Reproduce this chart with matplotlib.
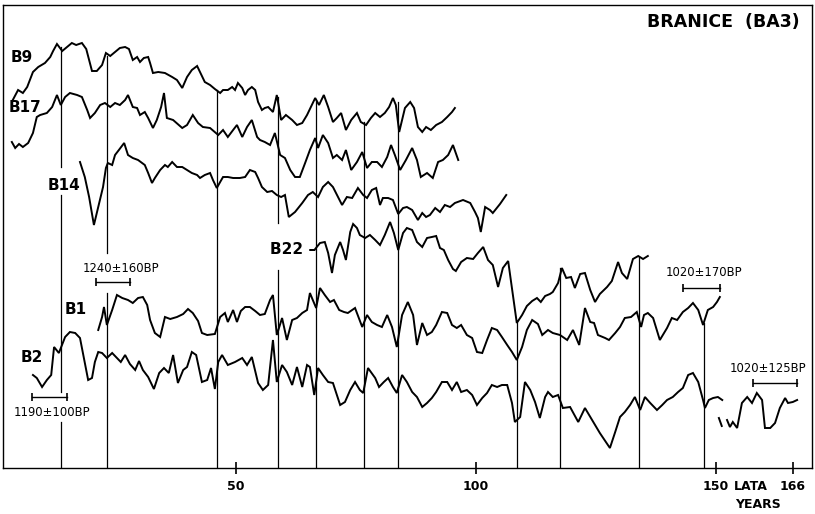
import matplotlib.pyplot as plt

# Branice (BA3) tree-ring curves. x = years, y = relative ring width (stacked, above the axis)
b9_years = [3.5, 4.6, 5.6, 6.5, 7.7, 8.8, 10.2, 11.3, 11.9, 12.7, 13.8, 14.8, 15.8, 16.7, 17.9, 18.8, 20.0, 21.0, 22.1, 22.9,
            23.8, 24.8, 25.8, 26.9, 27.7, 28.5, 29.4, 30.0, 30.8, 31.7, 32.1, 32.7, 33.8, 35.2, 36.7, 37.7, 38.8, 39.8, 40.8, 41.9,
            42.5, 43.5, 44.6, 45.6, 46.7, 47.3, 48.3, 49.2, 49.8, 50.4, 51.3, 51.9, 52.5, 53.3, 54.0, 54.6, 55.4, 56.0, 56.7, 57.7,
            58.5, 59.4, 60.4, 61.7, 62.7, 63.8, 64.8, 65.8, 66.5, 67.3, 68.3, 69.2, 70.2, 71.0, 71.9, 72.9, 74.0, 75.2, 76.0, 77.1,
            78.1, 79.0, 80.0, 81.0, 81.9, 82.7, 83.3, 84.0, 85.2, 86.3, 87.1, 87.9, 88.8, 89.6, 90.6, 91.7, 92.9, 94.0, 95.0, 95.6]
b9_vals = [368, 378, 375, 381, 396, 401, 405, 411, 417, 424, 417, 421, 425, 423, 425, 419, 397, 397, 403, 415,
           412, 416, 420, 421, 419, 408, 411, 406, 410, 411, 405, 395, 396, 395, 391, 388, 380, 391, 398, 402,
           396, 386, 383, 379, 375, 378, 378, 381, 378, 385, 380, 373, 378, 381, 378, 366, 358, 360, 361, 356,
           373, 348, 353, 348, 343, 345, 353, 363, 370, 363, 373, 361, 346, 350, 355, 338, 348, 355, 346, 343,
           350, 355, 351, 355, 361, 370, 363, 336, 360, 366, 360, 341, 336, 341, 338, 343, 346, 351, 356, 360]

b17_years = [3.3, 4.0, 4.8, 5.6, 6.7, 7.7, 8.5, 9.2, 10.6, 11.7, 12.7, 13.5, 14.4, 15.4, 16.9, 17.9, 19.0, 19.6, 20.6, 21.7,
             22.7, 23.8, 24.8, 25.8, 26.9, 27.5, 28.5, 29.4, 30.0, 31.0, 31.7, 32.7, 33.5, 34.4, 35.0, 35.6, 36.9, 38.8, 39.8, 41.0,
             42.1, 43.1, 44.6, 46.3, 47.3, 48.3, 49.4, 50.2, 51.3, 52.3, 53.3, 54.4, 55.0, 56.0, 57.1, 58.1, 59.2, 60.2, 61.3, 62.3,
             63.3, 64.4, 65.4, 66.5, 67.1, 68.1, 69.2, 70.2, 71.0, 72.1, 72.9, 74.0, 75.2, 76.3, 77.3, 78.3, 79.4, 80.4, 81.5, 82.3,
             83.1, 84.2, 85.4, 86.7, 87.7, 88.5, 89.8, 91.0, 92.1, 93.1, 94.2, 95.2, 96.3]
b17_vals = [326, 320, 324, 321, 325, 335, 351, 353, 355, 361, 373, 363, 371, 375, 373, 371, 358, 350, 355, 363,
            365, 361, 365, 363, 368, 373, 361, 360, 353, 356, 350, 340, 348, 361, 375, 350, 348, 340, 343, 353,
            345, 341, 340, 333, 338, 331, 338, 343, 331, 341, 348, 331, 328, 326, 323, 335, 313, 310, 298, 291,
            291, 305, 318, 330, 320, 333, 325, 310, 313, 308, 318, 298, 306, 316, 300, 306, 306, 301, 311, 323,
            313, 298, 308, 320, 308, 291, 295, 290, 306, 308, 313, 323, 308]

b14_years = [17.5, 18.5, 19.4, 20.4, 21.3, 22.3, 22.9, 23.3, 24.2, 24.8, 25.6, 26.7, 27.5, 28.5, 29.6, 31.0, 31.7, 32.5, 33.1, 34.2,
             35.2, 35.8, 36.7, 37.7, 38.8, 39.8, 40.8, 41.9, 42.5, 43.5, 44.6, 45.2, 46.0, 46.7, 47.3, 48.3, 49.4, 50.8, 51.9, 52.9,
             54.0, 54.6, 55.4, 56.5, 57.5, 58.5, 59.4, 60.2, 61.0, 62.3, 63.8, 65.0, 66.0, 67.1, 68.1, 69.2, 70.2, 72.1, 73.1, 74.2,
             75.4, 76.5, 77.3, 78.3, 79.2, 80.0, 80.6, 81.7, 82.7, 83.8, 84.8, 85.6, 86.7, 87.9, 88.8, 89.6, 90.4, 91.5, 92.5, 93.5,
             94.6, 95.6, 97.3, 98.8, 99.8, 100.4, 101.0, 101.9, 102.9, 103.5, 105.0, 106.3]
b14_vals = [306, 291, 271, 243, 261, 281, 300, 305, 303, 313, 318, 325, 313, 310, 308, 303, 295, 285, 290, 298,
            303, 301, 306, 301, 301, 298, 295, 293, 290, 293, 295, 288, 280, 286, 291, 291, 290, 290, 291, 298,
            296, 290, 281, 276, 277, 273, 271, 273, 251, 256, 265, 273, 276, 271, 281, 286, 281, 263, 271, 270,
            280, 273, 270, 278, 280, 263, 270, 270, 268, 254, 260, 261, 258, 248, 255, 251, 253, 260, 256, 263,
            261, 265, 268, 265, 256, 250, 236, 261, 258, 255, 264, 273]

b22_years = [66.5, 67.5, 68.5, 69.2, 70.0, 70.6, 71.7, 72.3, 72.9, 73.8, 74.4, 75.2, 75.8, 76.9, 77.9, 79.0, 80.0, 81.0, 82.1, 82.9,
             83.8, 84.8, 85.6, 86.7, 87.7, 88.8, 89.8, 90.8, 91.7, 92.5, 93.3, 94.2, 95.2, 95.8, 96.9, 98.1, 99.4, 100.4, 101.5, 102.5,
             103.5, 104.6, 105.6, 106.7, 108.5, 109.6, 110.6, 111.7, 112.7, 113.5, 114.4, 115.4, 116.0, 117.1, 117.9, 118.8, 119.8, 120.6, 121.7, 122.7,
             123.8, 124.8, 125.8, 127.3, 128.3, 129.6, 130.4, 131.5, 132.7, 133.8, 134.8, 135.8]
b22_vals = [219, 225, 226, 215, 195, 213, 226, 218, 208, 236, 244, 240, 233, 230, 233, 228, 223, 233, 246, 235,
            218, 235, 240, 238, 226, 221, 230, 231, 232, 220, 218, 208, 199, 197, 206, 210, 209, 215, 221, 208,
            203, 181, 200, 207, 145, 153, 162, 167, 170, 166, 172, 174, 176, 185, 200, 190, 191, 180, 194, 195,
            178, 166, 174, 181, 187, 206, 195, 189, 209, 212, 209, 212]

b1_years = [21.3, 22.1, 22.5, 23.1, 24.2, 25.2, 26.3, 27.5, 28.5, 29.6, 30.6, 31.5, 32.1, 33.1, 34.2, 35.2, 36.3, 37.7, 39.0, 40.0,
            41.0, 42.1, 42.9, 44.0, 45.6, 46.7, 47.7, 48.3, 49.4, 50.2, 51.0, 51.9, 52.9, 54.0, 55.0, 56.0, 57.1, 57.7, 58.5, 59.6,
            60.6, 61.7, 62.7, 63.8, 64.8, 65.4, 66.0, 66.7, 67.5, 68.5, 69.6, 70.4, 71.5, 72.5, 73.3, 74.8, 76.3, 77.3, 78.3, 79.4,
            80.4, 81.5, 82.5, 83.5, 84.6, 85.8, 86.9, 87.7, 88.8, 89.8, 90.8, 91.7, 92.9, 94.0, 95.0, 96.0, 96.9, 98.1, 99.2, 100.2,
            101.3, 102.3, 103.3, 104.4, 105.4, 106.5, 107.5, 108.5, 109.6, 110.6, 111.7, 112.9, 113.8, 115.0, 116.0, 117.5, 119.0, 120.2, 121.5, 122.7,
            123.8, 124.6, 125.4, 126.9, 127.7, 129.0, 130.0, 131.0, 132.3, 133.5, 134.4, 135.0, 135.8, 136.9, 138.3, 139.8, 140.8, 141.9, 143.1, 144.2,
            145.2, 146.3, 147.3, 148.3, 149.4, 150.2, 150.8]
b1_vals = [138, 151, 161, 143, 158, 173, 170, 168, 165, 170, 171, 163, 148, 135, 131, 151, 149, 151, 154, 159,
           155, 147, 135, 133, 134, 151, 155, 146, 158, 146, 157, 161, 161, 157, 153, 154, 168, 173, 133, 150,
           128, 148, 150, 155, 158, 175, 168, 160, 180, 173, 166, 168, 158, 156, 155, 160, 141, 153, 146, 143,
           141, 153, 141, 121, 153, 166, 153, 123, 145, 133, 136, 143, 156, 155, 143, 140, 143, 133, 130, 116,
           115, 128, 140, 138, 131, 123, 116, 108, 121, 138, 148, 144, 133, 138, 135, 133, 128, 138, 123, 160,
           146, 145, 133, 130, 128, 135, 141, 150, 151, 156, 141, 153, 155, 150, 128, 140, 150, 148, 156, 160,
           165, 158, 143, 158, 161, 166, 171]

b2_years = [7.7, 8.5, 9.6, 10.6, 11.5, 12.1, 13.1, 14.4, 15.4, 16.5, 17.5, 18.1, 19.2, 20.0, 20.6, 21.3, 22.1, 23.1, 24.2, 25.0,
            26.0, 26.9, 27.9, 29.0, 29.8, 30.6, 31.7, 32.9, 34.0, 35.0, 36.0, 36.9, 37.9, 39.0, 39.8, 40.8, 41.7, 42.9, 44.0, 44.8,
            45.6, 46.3, 47.1, 48.3, 49.8, 51.3, 52.3, 53.3, 54.6, 55.6, 56.7, 57.7, 58.5, 59.6, 60.6, 61.7, 62.7, 63.8, 64.8, 65.4,
            66.3, 67.1, 68.1, 69.2, 70.2, 71.7, 72.7, 73.8, 74.8, 75.8, 76.5, 77.5, 79.0, 79.8, 80.8, 81.7, 82.7, 83.5, 84.6, 85.6,
            86.7, 87.7, 88.8, 89.8, 90.8, 91.7, 92.9, 94.0, 95.0, 96.0, 96.9, 98.1, 99.2, 100.2, 101.3, 102.3, 103.3, 104.4, 105.4, 106.5,
            107.5, 108.1, 109.2, 110.2, 111.3, 112.3, 113.3, 114.4, 115.0, 116.0, 117.1, 118.1, 119.6, 121.3, 122.7, 124.2, 125.8, 127.9, 129.0, 130.0,
            131.0, 132.1, 133.1, 134.2, 135.2, 136.3, 137.7, 138.8, 139.8, 141.0, 142.1, 143.1, 144.2, 145.2, 146.3, 147.3, 147.7, 148.5, 149.4, 150.4,
            151.3]
b2_vals = [93, 90, 81, 88, 93, 121, 115, 131, 136, 135, 130, 115, 88, 90, 106, 116, 115, 110, 115, 111,
           106, 113, 104, 98, 107, 98, 91, 79, 95, 100, 95, 113, 85, 98, 101, 116, 113, 86, 88, 100,
           79, 106, 113, 103, 106, 110, 103, 111, 85, 78, 83, 128, 86, 103, 96, 83, 101, 81, 103, 101,
           73, 100, 93, 86, 85, 63, 66, 78, 86, 78, 75, 100, 90, 81, 86, 90, 81, 75, 93, 86,
           76, 71, 61, 65, 70, 76, 86, 86, 78, 86, 76, 78, 73, 63, 70, 75, 83, 81, 83, 83,
           65, 46, 51, 86, 78, 66, 50, 71, 76, 71, 73, 60, 61, 46, 60, 48, 35, 20, 36, 51,
           56, 63, 71, 58, 71, 65, 58, 63, 68, 71, 76, 80, 93, 95, 86, 68, 60, 68, 70, 71,
           68]
# B2 after the break (short stroke, then the last rings)
b2_gap_years = [150.6, 151.2]
b2_gap_vals = [50, 42]
b2_end_years = [152.3, 152.9, 153.5, 154.4, 155.4, 156.5, 157.5, 158.5, 159.6, 160.2, 161.3, 162.3, 163.3, 164.4, 165.0, 166.0, 166.9]
b2_end_vals = [48, 41, 46, 40, 65, 71, 65, 75, 68, 40, 40, 45, 60, 70, 65, 66, 68]

# synchronising (signature) years: x, top, bottom of each drawn segment
sig_x = [13.5, 13.5, 13.5, 23.1, 23.1, 46.0, 58.8, 58.8, 66.7, 76.7, 83.8, 108.5, 117.5, 134.0, 147.5]
sig_top = [421, 273, 46, 412, 175, 378, 371, 198, 368, 346, 366, 145, 200, 211, 145]
sig_bot = [301, 76, 0, 215, 0, 0, 245, 0, 0, 0, 0, 0, 0, 0, 0]

# radiocarbon dates: label, start year, end year, level, where the label sits
c14_labels = ["1190±100BP", "1240±160BP", "1020±170BP", "1020±125BP"]
c14_start = [7.5, 20.8, 143.1, 157.7]
c14_end = [14.8, 28.0, 150.8, 166.9]
c14_level = [71, 186, 180, 85]
c14_text_x = [11.7, 26.0, 147.5, 160.8]
c14_text_y = [55, 200, 195, 100]

series = [b9_years, b9_vals, b17_years, b17_vals, b14_years, b14_vals, b22_years, b22_vals,
          b1_years, b1_vals, b2_years, b2_vals, b2_gap_years, b2_gap_vals, b2_end_years, b2_end_vals]

fig = plt.figure(figsize=(8.15, 5.14), dpi=100)
ax = fig.add_axes([3 / 815, 46 / 514, 809 / 815, 463 / 514])
ax.set_xlim(1.46, 170.0)
ax.set_ylim(0, 463)

for i in range(0, len(series), 2):
    ax.plot(series[i], series[i + 1], color="black", linewidth=1.4, solid_joinstyle="miter")

for x, top, bot in zip(sig_x, sig_top, sig_bot):
    ax.plot([x, x], [bot, top], color="black", linewidth=0.9)

# curve names
lab = dict(fontsize=11, fontweight="bold", ha="center", va="center")
ax.text(5.4, 411, "B9", **lab)
ax.text(6.0, 361, "B17", **lab)
ax.text(14.2, 282, "B14", **lab)
ax.text(66.6, 219, "B22 –", fontsize=11, fontweight="bold", ha="right", va="center")
ax.text(16.7, 158, "B1", **lab)
ax.text(7.5, 110, "B2", **lab)

# date ranges with end caps
for label, x0, x1, lev, tx, ty in zip(c14_labels, c14_start, c14_end, c14_level, c14_text_x, c14_text_y):
    ax.plot([x0, x1], [lev, lev], color="black", linewidth=1.0)
    ax.plot([x0, x1], [lev, lev], color="black", linestyle="none", marker="|", markersize=6, markeredgewidth=1.2)
    ax.text(tx, ty, label, fontsize=9.3, fontstretch="condensed", ha="center", va="center")

ax.text(0.985, 0.963, "BRANICE  (BA3)", transform=ax.transAxes, fontsize=12.5, fontweight="bold",
        ha="right", va="center")

ax.set_xticks([50, 100, 150, 166])
ax.set_xticklabels(["50", "100", "150", "166"])
ax.set_yticks([])
ax.tick_params(axis="x", direction="inout", length=9, width=1.2, labelsize=9, pad=4)
for t in ax.get_xticklabels():
    t.set_fontweight("bold")

ax.text(157.3, -0.026, "LATA", transform=ax.get_xaxis_transform(), fontsize=9, fontweight="bold",
        ha="center", va="top")
ax.text(158.8, -0.064, "YEARS", transform=ax.get_xaxis_transform(), fontsize=9, fontweight="bold",
        ha="center", va="top")

for s in ax.spines.values():
    s.set_linewidth(1.0)

fig.savefig("out.png", dpi=100)
